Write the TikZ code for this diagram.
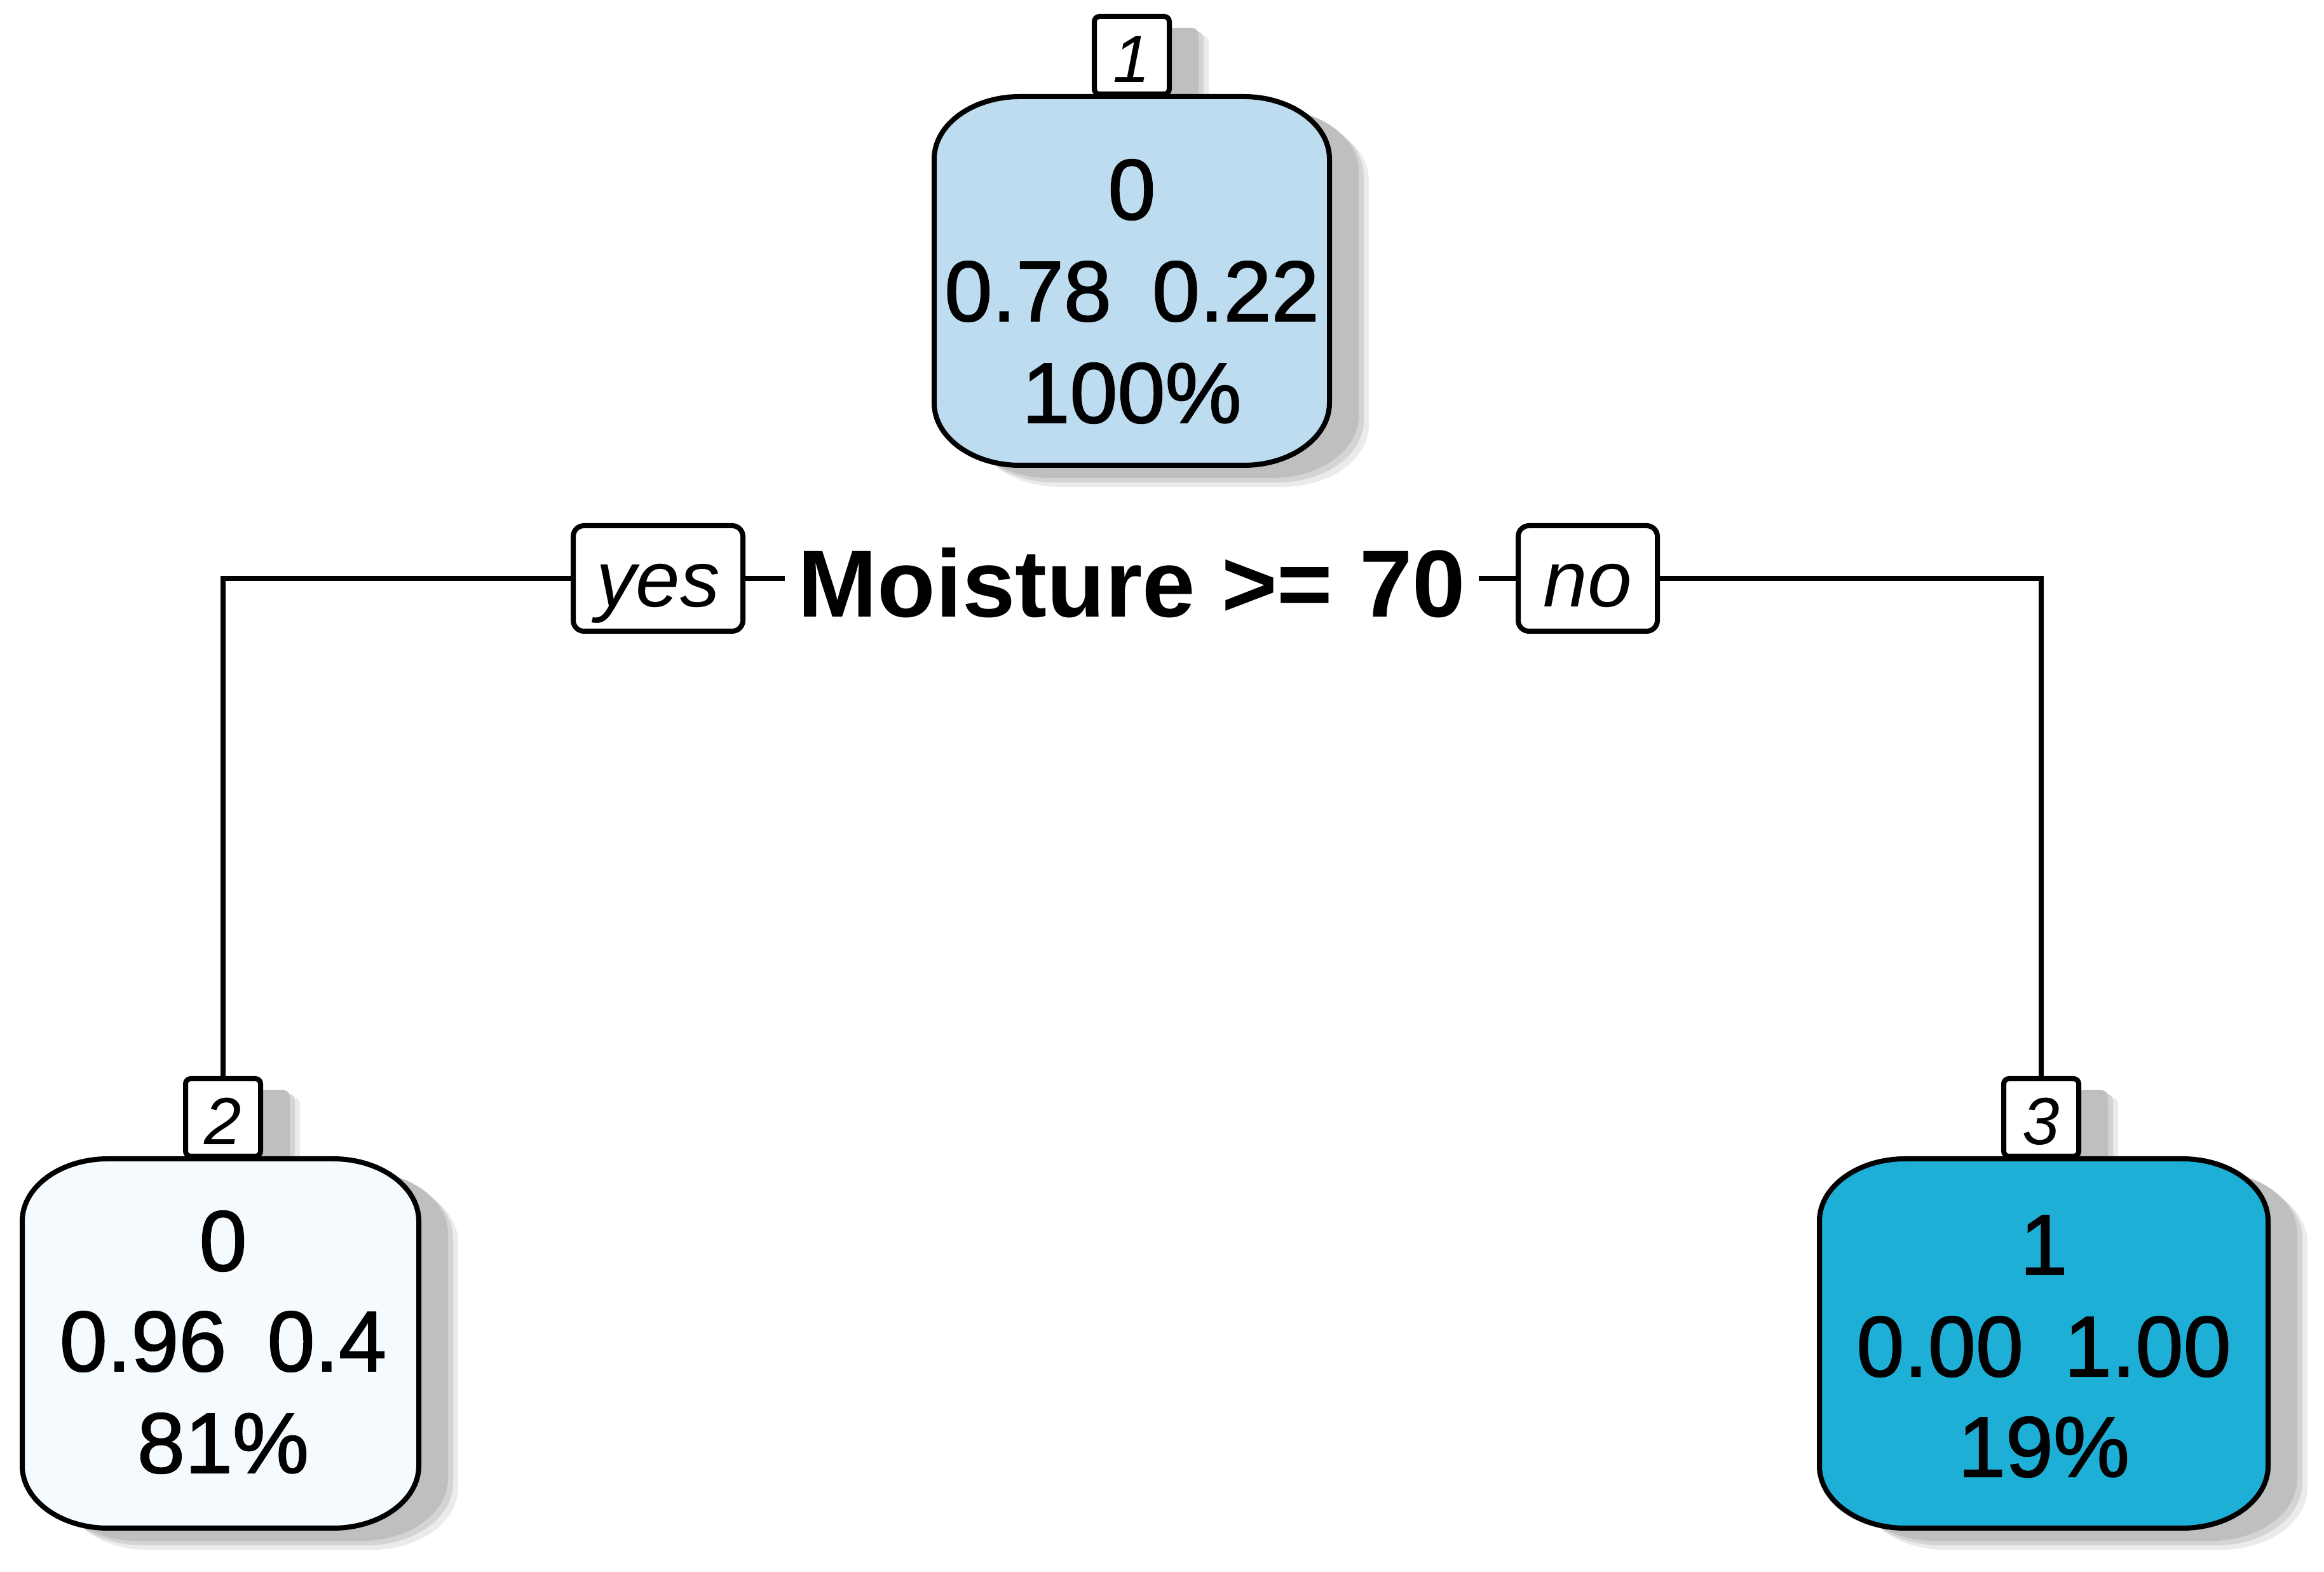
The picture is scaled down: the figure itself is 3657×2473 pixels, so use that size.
\documentclass[tikz,border=0pt]{standalone}
\usepackage{fontspec}
\setmainfont{Liberation Sans}
\newfontfamily\heavyfont{Liberation Sans}[FakeBold=1.4]
\definecolor{nonefill}{HTML}{BEDCEF}
\definecolor{ntwofill}{HTML}{F5FAFE}
\definecolor{nthreefill}{HTML}{1EAFD6}
\definecolor{shd}{HTML}{BFBFBF}
\definecolor{shdb}{HTML}{D4D4D4}
\definecolor{shdc}{HTML}{EBEBEB}
% elliptical-cornered box: #1 options, #2 x1, #3 y1, #4 x2, #5 y2, #6 rx, #7 ry
\newcommand\ellbox[7]{%
 \path[#1] (#2+#6,#3) -- (#4-#6,#3)
   .. controls (#4-0.4477*#6,#3) and (#4,#3+0.4477*#7) .. (#4,#3+#7)
   -- (#4,#5-#7)
   .. controls (#4,#5-0.4477*#7) and (#4-0.4477*#6,#5) .. (#4-#6,#5)
   -- (#2+#6,#5)
   .. controls (#2+0.4477*#6,#5) and (#2,#5-0.4477*#7) .. (#2,#5-#7)
   -- (#2,#3+#7)
   .. controls (#2,#3+0.4477*#7) and (#2+0.4477*#6,#3) .. (#2+#6,#3) -- cycle;}
\newcommand\nodeshadow[6]{%
 \ellbox{fill=shdc,shift={(62,34)}}{#1}{#2}{#3}{#4}{#5}{#6}%
 \ellbox{fill=shdb,shift={(54,27)}}{#1}{#2}{#3}{#4}{#5}{#6}%
 \ellbox{fill=shd,shift={(46,20)}}{#1}{#2}{#3}{#4}{#5}{#6}}
% label shadow: #1 cx, #2 cy
\newcommand\labshadow[2]{%
 \fill[shdc,rounded corners=2pt] (#1-59+62,#2-61+30) rectangle (#1+59+62,#2+61+30);
 \fill[shdb,rounded corners=2pt] (#1-59+54,#2-61+24) rectangle (#1+59+54,#2+61+24);
 \fill[shd,rounded corners=2pt] (#1-59+46,#2-61+18) rectangle (#1+59+46,#2+61+18);}
\newcommand\nodegap{\hspace{12.8pt}}
\begin{document}
\begin{tikzpicture}[x=0.2pt,y=-0.2pt,
  nbox/.style={fill=#1,draw=black,line width=1.6pt},
  ntext/.style={font=\heavyfont\fontsize{27}{32}\selectfont,inner sep=0pt,anchor=base},
  numlab/.style={draw=black,fill=white,line width=1.6pt,rounded corners=1.6pt,
    inner sep=0pt,minimum width=23.6pt,minimum height=24.4pt,
    font=\fontsize{21}{21}\selectfont\itshape,text height=17pt,text depth=0pt},
  ynbox/.style={draw=black,fill=white,line width=1.6pt,rounded corners=3.4pt,
    inner sep=0pt,minimum height=33.2pt,
    font=\fontsize{25}{25}\selectfont\itshape,text height=22pt,text depth=4pt},
  splitlab/.style={font=\fontsize{30}{30}\selectfont\bfseries,inner xsep=4pt,inner ysep=0pt},
  conn/.style={draw=black,line width=1.6pt},
  hold/.style={inner sep=0pt,draw=none}]
\fill[white] (0,0) rectangle (3657,2473);
\useasboundingbox (0,0) rectangle (3657,2473);

% label shadows
\labshadow{1781}{87}
\labshadow{351}{1758}
\labshadow{3212}{1758}
% node shadows
\nodeshadow{1470}{152}{2092}{732}{135}{98}
\nodeshadow{35}{1823}{659}{2404}{135}{98}
\nodeshadow{2863}{1823}{3569}{2404}{135}{98}
% node shapes
\ellbox{nbox=nonefill}{1470}{152}{2092}{732}{135}{98}
\ellbox{nbox=ntwofill}{35}{1823}{659}{2404}{135}{98}
\ellbox{nbox=nthreefill}{2863}{1823}{3569}{2404}{135}{98}
\node[hold,minimum width=124.4pt,minimum height=116pt] (n1) at (1781,442) {};
\node[hold,minimum width=124.8pt,minimum height=116.2pt] (n2) at (347,2113.5) {};
\node[hold,minimum width=141.2pt,minimum height=116.2pt] (n3) at (3216,2113.5) {};

% node texts
\node[ntext] (n1a) at (1781,345) {0};
\node[ntext] (n1b) at (1781,505) {0.78\nodegap 0.22};
\node[ntext] (n1c) at (1781,665) {100\%};
\node[ntext] (n2a) at (351,1999) {0};
\node[ntext] (n2b) at (351,2157) {0.96\nodegap 0.4};
\node[ntext] (n2c) at (351,2317) {81\%};
\node[ntext] (n3a) at (3216,2005) {1};
\node[ntext] (n3b) at (3216,2165) {0.00\nodegap 1.00};
\node[ntext] (n3c) at (3216,2323) {19\%};

% number labels
\node[numlab] (l1) at (1781,87) {1};
\node[numlab] (l2) at (351,1758) {2};
\node[numlab] (l3) at (3212,1758) {3};

% split
\node[ynbox,minimum width=53.4pt] (yes) at (1035.5,910) {yes};
\node[ynbox,minimum width=43.8pt] (no) at (2498.5,910) {no};
\node[splitlab] (split) at (1781,917) {Moisture >= 70};

% connectors
\draw[conn] (yes.west) -| (l2.north);
\draw[conn] (no.east) -| (l3.north);
\draw[conn] (yes.east) -- (yes.east -| split.west);
\draw[conn] (no.west) -- (no.west -| split.east);
\end{tikzpicture}
\end{document}
